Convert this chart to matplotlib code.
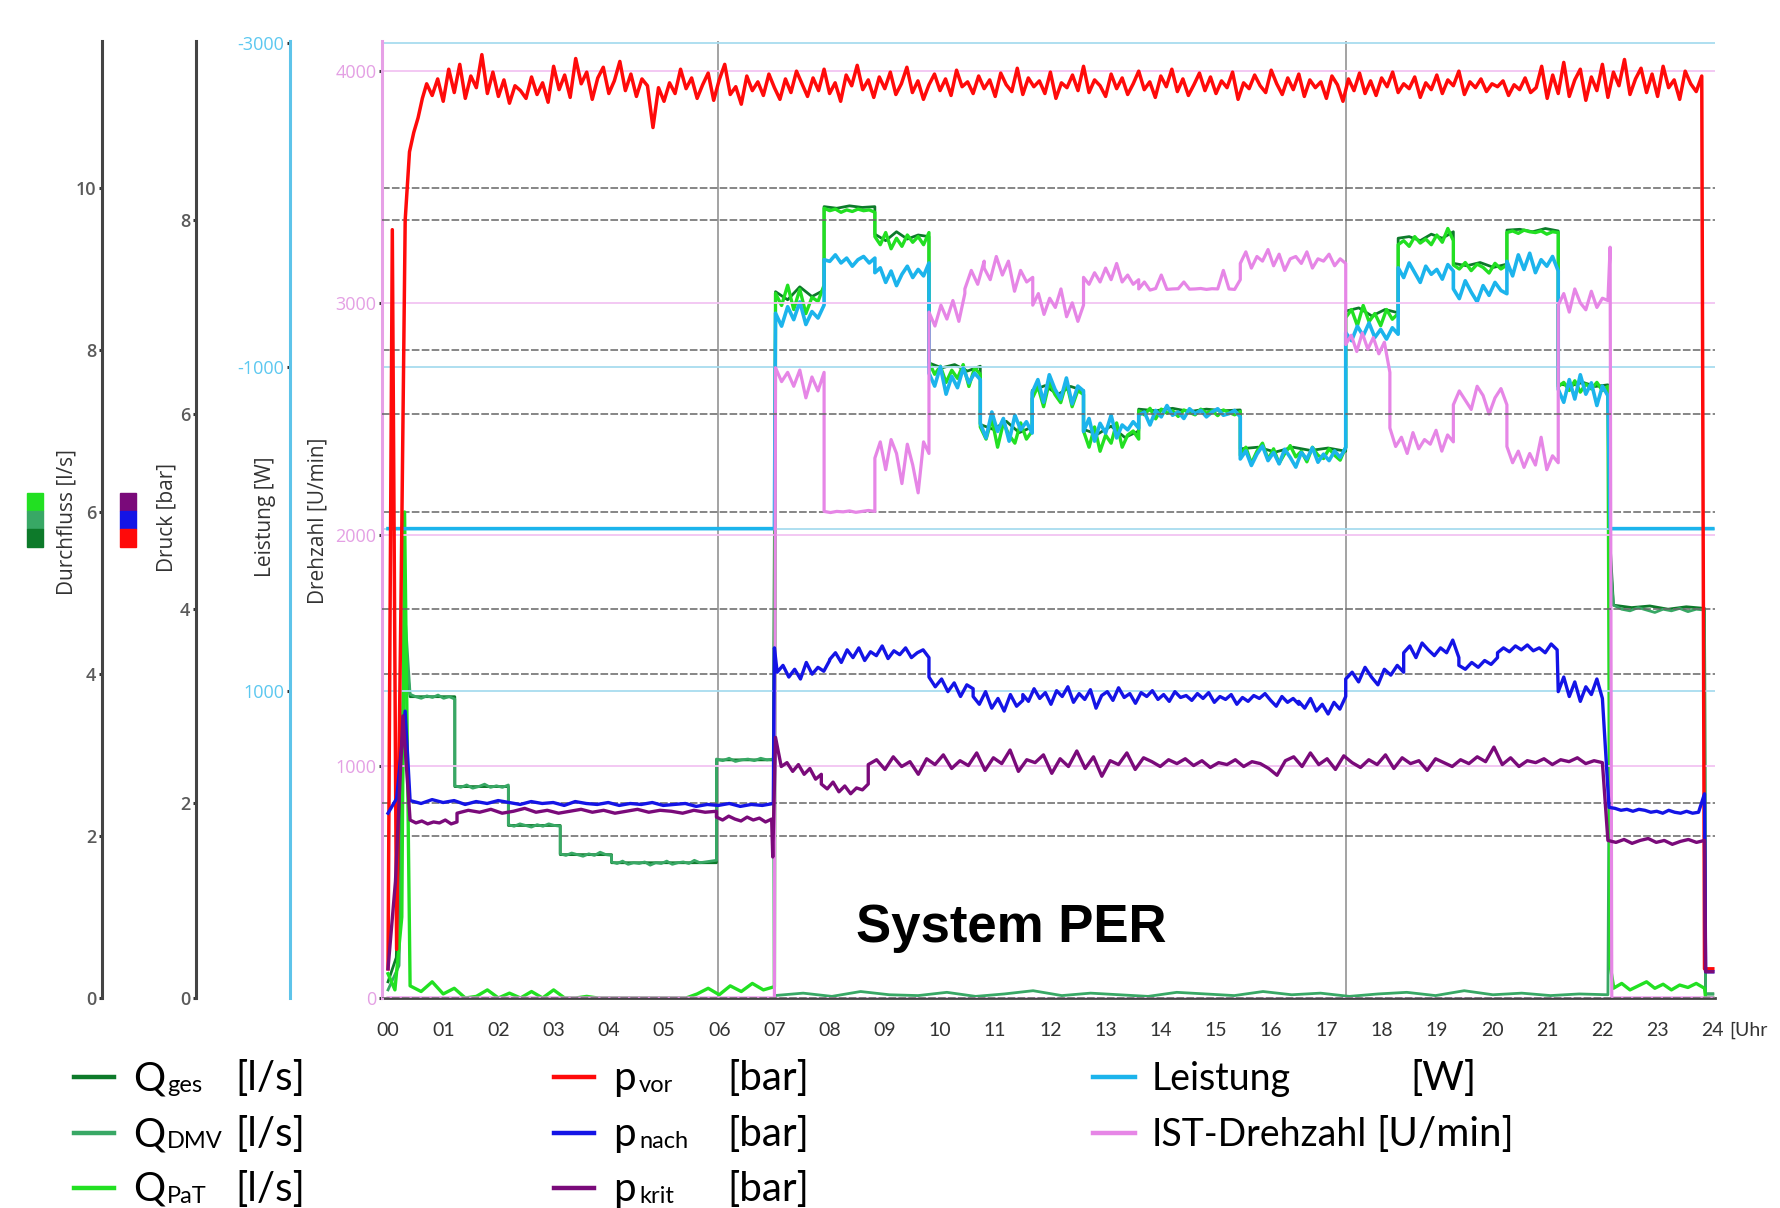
import numpy as np
import matplotlib
matplotlib.use("Agg")
import matplotlib.pyplot as plt
from matplotlib.lines import Line2D
from matplotlib.patches import Rectangle

plt.rcParams["axes.unicode_minus"] = False

W, H = 1780, 1208

# ---- data (hours, values); each segment = (t_start, t_end, values spread evenly) ----
HOURS = list(range(25))
HOUR_LABELS = [f"{h:02d}" for h in HOURS]
MARKER_TIMES = [5.97, 17.35]

FLOW_TICKS = [0, 2, 4, 6, 8, 10]
PRESS_TICKS = [0, 2, 4, 6, 8]
POWER_TICKS = [-3000, -1000, 1000]
RPM_TICKS = [0, 1000, 2000, 3000, 4000]

PVOR_START = [0.3, 7.9, 0.5, 4.0, 8.0, 8.7, 8.9, 9.05, 9.25, 9.4]
PVOR_MAIN = [
    9.28, 9.45, 9.22, 9.55, 9.31, 9.60, 9.25, 9.48, 9.36, 9.70,
    9.30, 9.52, 9.27, 9.44, 9.20, 9.38, 9.33, 9.25, 9.47, 9.29,
    9.41, 9.21, 9.58, 9.34, 9.49, 9.26, 9.66, 9.40, 9.52, 9.24,
    9.46, 9.57, 9.30, 9.43, 9.63, 9.33, 9.50, 9.27, 9.45, 9.38,
    8.95, 9.36, 9.22, 9.41, 9.30, 9.55, 9.35, 9.46, 9.25, 9.39,
    9.51, 9.23, 9.44, 9.60, 9.29, 9.37, 9.19, 9.48, 9.33, 9.42,
    9.28, 9.50, 9.36, 9.24, 9.45, 9.31, 9.53, 9.40, 9.27, 9.46,
    9.33, 9.55, 9.30, 9.41, 9.22, 9.49, 9.38, 9.59, 9.34, 9.44,
    9.26, 9.47, 9.35, 9.52, 9.29, 9.40, 9.57, 9.31, 9.43, 9.24,
    9.39, 9.50, 9.33, 9.45, 9.28, 9.54, 9.37, 9.42, 9.30, 9.48,
    9.35, 9.44, 9.27, 9.51, 9.39, 9.32, 9.56, 9.29, 9.46, 9.37,
    9.43, 9.30, 9.52, 9.25, 9.41, 9.36, 9.49, 9.33, 9.58, 9.31,
    9.44, 9.38, 9.27, 9.50, 9.35, 9.46, 9.29, 9.40, 9.53, 9.34,
    9.42, 9.26, 9.48, 9.37, 9.55, 9.32, 9.45, 9.28, 9.39, 9.51,
    9.33, 9.47, 9.30, 9.43, 9.36, 9.52, 9.24, 9.41, 9.35, 9.49,
    9.38, 9.31, 9.54, 9.40, 9.29, 9.46, 9.34, 9.50, 9.27, 9.44,
    9.36, 9.42, 9.25, 9.48, 9.39, 9.22, 9.45, 9.33, 9.51, 9.30,
    9.43, 9.28, 9.46, 9.37, 9.52, 9.31, 9.40, 9.35, 9.47, 9.26,
    9.41, 9.34, 9.49, 9.30, 9.44, 9.38, 9.53, 9.29, 9.42, 9.36,
    9.45, 9.32, 9.40, 9.37, 9.43, 9.28, 9.39, 9.34, 9.46, 9.31,
    9.36, 9.58, 9.25, 9.49, 9.30, 9.62, 9.27, 9.44, 9.55, 9.23,
    9.47, 9.33, 9.60, 9.26, 9.52, 9.38, 9.65, 9.29, 9.45, 9.56,
    9.31, 9.50, 9.27, 9.58, 9.36, 9.44, 9.24, 9.53, 9.40, 9.32,
    9.48,
]
PVOR = [(0.0, 0.7, PVOR_START), (0.8, 23.8, PVOR_MAIN), (23.85, 24.0, [0.3, 0.3])]

PNACH_NIGHT = [2.03, 2.0, 2.04, 2.01, 2.03, 1.99, 2.02, 2.0, 2.03, 2.01, 1.99, 2.02,
               2.0, 2.01, 1.98, 2.02, 2.0, 1.99, 2.01, 1.98, 2.0, 1.99, 2.01, 1.98,
               1.99, 2.0, 1.97, 1.99, 1.98, 2.0, 1.97, 1.99, 1.98, 2.0]
PNACH_DAY = [3.12, 3.05, 3.18, 3.08, 3.14, 3.02, 3.16, 3.1, 3.2, 3.04,
             3.13, 3.07, 3.17, 2.98, 3.11, 3.15, 3.06, 3.19, 3.09, 3.13,
             3.03, 3.14, 3.1, 3.16, 3.07, 3.12, 3.05, 3.15, 3.09, 3.11,
             3.06, 3.13, 3.08, 3.14, 3.04, 3.1, 3.07, 3.12, 3.02, 3.09,
             3.05, 3.11, 3.08, 3.13, 3.06, 3.0, 3.1, 3.04, 3.08, 3.02]
PNACH = [
    (0.0, 0.31, [1.9, 2.05, 2.95]),
    (0.4, 6.98, PNACH_NIGHT),
    (7.0, 7.0, [3.6]),
    (7.05, 8.0, [3.35, 3.42, 3.3, 3.38, 3.28, 3.45, 3.33, 3.4, 3.36, 3.47]),
    (8.0, 9.8, [3.48, 3.55, 3.45, 3.58, 3.5, 3.6, 3.47, 3.56, 3.52, 3.62,
                3.49, 3.57, 3.53, 3.6, 3.5, 3.55, 3.58, 3.5]),
    (9.8, 10.6, [3.3, 3.2, 3.28, 3.15, 3.24, 3.1, 3.22, 3.18]),
    (10.6, 11.5, [3.1, 3.02, 3.15, 2.98, 3.08, 2.95, 3.12, 3.0, 3.06]),
    (11.5, 16.5, PNACH_DAY),
    (16.5, 17.35, [3.05, 2.98, 3.08, 2.95, 3.02, 2.92, 3.04, 2.97, 3.1]),
    (17.35, 18.4, [3.28, 3.35, 3.25, 3.4, 3.3, 3.22, 3.38, 3.32, 3.42, 3.35]),
    (18.4, 19.4, [3.55, 3.62, 3.5, 3.65, 3.58, 3.52, 3.6, 3.55, 3.68, 3.5]),
    (19.4, 20.1, [3.42, 3.38, 3.45, 3.4, 3.47, 3.43, 3.5]),
    (20.1, 21.18, [3.55, 3.6, 3.56, 3.62, 3.58, 3.63, 3.57, 3.6, 3.55, 3.64, 3.58]),
    (21.2, 22.0, [3.15, 3.3, 3.1, 3.25, 3.05, 3.2, 3.12, 3.28, 3.08]),
    (22.12, 23.85, [1.96, 1.95, 1.93, 1.94, 1.92, 1.94, 1.93, 1.91, 1.92, 1.9,
                    1.93, 1.91, 1.9, 1.92, 1.9, 1.91, 2.1]),
    (23.87, 24.0, [0.27, 0.27]),
]

PKRIT_NIGHT = [1.9, 1.93, 1.91, 1.94, 1.9, 1.92, 1.95, 1.91, 1.93, 1.9, 1.92, 1.94,
               1.91, 1.93, 1.9, 1.92, 1.94, 1.91, 1.93, 1.92, 1.9, 1.93, 1.91, 1.92]
PKRIT_DAY = [
    2.4, 2.45, 2.35, 2.48, 2.38, 2.43, 2.3, 2.46, 2.4, 2.5,
    2.36, 2.44, 2.39, 2.52, 2.34, 2.47, 2.41, 2.55, 2.33, 2.45,
    2.42, 2.5, 2.31, 2.46, 2.38, 2.54, 2.36, 2.48, 2.28, 2.44,
    2.4, 2.52, 2.35, 2.47, 2.43, 2.38, 2.45, 2.41, 2.46, 2.39,
    2.44, 2.37, 2.42, 2.4, 2.45, 2.38, 2.43, 2.41, 2.36, 2.29,
    2.44, 2.48, 2.38, 2.52, 2.4, 2.46, 2.35, 2.49, 2.42, 2.37,
    2.45, 2.4, 2.5, 2.36, 2.47, 2.41, 2.44, 2.34, 2.46, 2.42,
    2.38, 2.45, 2.41, 2.48, 2.43, 2.58, 2.4, 2.47, 2.38, 2.44,
    2.42, 2.46, 2.4, 2.45, 2.43, 2.47, 2.41, 2.44, 2.42,
]
PKRIT = [
    (0.0, 0.27, [0.3, 1.2, 2.9]),
    (0.4, 1.25, [1.83, 1.8, 1.82, 1.79, 1.81, 1.8, 1.83, 1.79, 1.81]),
    (1.25, 5.95, PKRIT_NIGHT),
    (5.95, 6.95, [1.86, 1.83, 1.87, 1.84, 1.82, 1.86, 1.83, 1.85, 1.81, 1.84]),
    (6.97, 6.97, [1.45]),
    (7.02, 7.85, [2.68, 2.38, 2.42, 2.33, 2.4, 2.3, 2.36, 2.25, 2.3]),
    (7.85, 8.7, [2.2, 2.15, 2.22, 2.12, 2.18, 2.1, 2.16, 2.14, 2.2]),
    (8.7, 22.0, PKRIT_DAY),
    (22.1, 23.85, [1.62, 1.6, 1.63, 1.59, 1.62, 1.64, 1.6, 1.62, 1.58, 1.61, 1.63, 1.6, 1.62]),
    (23.87, 24.0, [0.27, 0.27]),
]

QGES = [
    (0.0, 0.3, [0.2, 0.5, 4.4]),
    (0.4, 1.21, [3.72, 3.72]), (1.21, 2.18, [2.61, 2.61]), (2.18, 3.12, [2.13, 2.13]),
    (3.12, 4.05, [1.77, 1.77]), (4.05, 5.95, [1.67, 1.67]), (5.95, 6.98, [2.94, 2.94]),
    (7.02, 7.9, [8.72, 8.62, 8.78, 8.66, 8.74]),
    (7.9, 8.82, [9.77, 9.75, 9.78, 9.76, 9.77]),
    (8.82, 9.8, [9.43, 9.35, 9.46, 9.37, 9.42, 9.4]),
    (9.8, 10.73, [7.84, 7.78, 7.82, 7.74, 7.8]),
    (10.73, 11.67, [7.08, 7.02, 7.12, 6.98, 7.05]),
    (11.67, 12.6, [7.5, 7.56, 7.45, 7.55, 7.5]),
    (12.6, 13.6, [7.02, 6.96, 7.06, 6.92, 7.0]),
    (13.6, 15.44, [7.27, 7.25, 7.28, 7.24, 7.27, 7.25, 7.26]),
    (15.44, 17.35, [6.78, 6.8, 6.74, 6.8, 6.76, 6.79, 6.75]),
    (17.35, 18.3, [8.48, 8.52, 8.42, 8.5, 8.46]),
    (18.3, 19.3, [9.38, 9.4, 9.35, 9.43, 9.38, 9.46]),
    (19.3, 20.27, [9.07, 9.04, 9.08, 9.02, 9.06]),
    (20.27, 21.2, [9.48, 9.49, 9.46, 9.5, 9.47]),
    (21.2, 22.1, [7.58, 7.56, 7.6, 7.55, 7.57]),
    (22.14, 22.14, [5.6]),
    (22.2, 23.85, [4.85, 4.82, 4.84, 4.8, 4.83, 4.81]),
    (23.87, 24.0, [0.05, 0.05]),
]

QDMV_DAY = [0.03, 0.06, 0.02, 0.08, 0.04, 0.03, 0.07, 0.02, 0.05, 0.09, 0.03, 0.06, 0.04, 0.02, 0.07,
            0.05, 0.03, 0.08, 0.04, 0.06, 0.02, 0.05, 0.07, 0.03, 0.09, 0.04, 0.06, 0.03, 0.05, 0.04]
QDMV = [
    (0.0, 0.2, [0.1, 0.4]),
    (0.32, 0.32, [4.6]),
    (0.4, 1.21, [3.75, 3.72, 3.7, 3.73, 3.71, 3.74, 3.7, 3.72, 3.69]),
    (1.21, 2.18, [2.62, 2.6, 2.63, 2.59, 2.61, 2.64, 2.6, 2.62, 2.6, 2.63]),
    (2.18, 3.12, [2.14, 2.12, 2.15, 2.13, 2.11, 2.14, 2.12, 2.15, 2.13, 2.12]),
    (3.12, 4.05, [1.78, 1.76, 1.79, 1.77, 1.75, 1.78, 1.76, 1.8, 1.77, 1.76]),
    (4.05, 5.95, [1.68, 1.66, 1.69, 1.65, 1.67, 1.66, 1.68, 1.64, 1.67, 1.66,
                  1.69, 1.65, 1.67, 1.68, 1.66, 1.7, 1.67, 1.68, 1.69, 1.7]),
    (5.95, 6.98, [2.95, 2.93, 2.96, 2.92, 2.94, 2.95, 2.93, 2.96, 2.94, 2.95]),
    (7.0, 22.1, QDMV_DAY),
    (22.14, 22.14, [5.4]),
    (22.2, 23.85, [4.85, 4.8, 4.78, 4.82, 4.79, 4.76, 4.8, 4.78, 4.81, 4.77, 4.8, 4.79]),
    (23.87, 24.0, [0.05, 0.05]),
]

QPAT_NIGHT = [0.15, 0.08, 0.2, 0.05, 0.12, 0.0, 0.02, 0.1, 0.0, 0.06, 0.0, 0.08, 0.0, 0.1, 0.0, 0.0, 0.02,
              0.0, 0.0, 0.0, 0.0, 0.0, 0.0, 0.0, 0.0, 0.0, 0.05, 0.12, 0.04, 0.15, 0.08, 0.18, 0.1, 0.14]
QPAT = [
    (0.0, 0.25, [0.3, 0.1, 1.0]),
    (0.3, 0.3, [6.0]),
    (0.4, 7.0, QPAT_NIGHT),
    (7.02, 7.9, [8.7, 8.55, 8.8, 8.5, 8.75, 8.45, 8.65, 8.6, 8.8]),
    (7.9, 8.82, [9.75, 9.72, 9.74, 9.7, 9.73, 9.71, 9.74, 9.72, 9.73, 9.7]),
    (8.82, 9.8, [9.4, 9.3, 9.45, 9.25, 9.38, 9.28, 9.42, 9.33, 9.4, 9.3, 9.45]),
    (9.8, 10.73, [7.85, 7.7, 7.8, 7.6, 7.75, 7.65, 7.82, 7.55, 7.78, 7.7]),
    (10.73, 11.67, [7.05, 6.9, 7.15, 6.8, 7.1, 6.95, 6.85, 7.1, 6.9, 7.0]),
    (11.67, 12.6, [7.4, 7.55, 7.3, 7.6, 7.45, 7.35, 7.6, 7.3, 7.5, 7.45]),
    (12.6, 13.6, [7.0, 6.8, 7.05, 6.75, 6.95, 6.85, 7.1, 6.8, 6.95, 7.0, 6.9]),
    (13.6, 15.44, [7.25, 7.2, 7.28, 7.15, 7.27, 7.22, 7.25, 7.18, 7.26, 7.23,
                   7.2, 7.27, 7.22, 7.25, 7.19, 7.26, 7.23, 7.2, 7.24]),
    (15.44, 17.35, [6.7, 6.8, 6.6, 6.75, 6.85, 6.65, 6.78, 6.6, 6.72, 6.82,
                    6.68, 6.75, 6.62, 6.8, 6.7, 6.66, 6.78, 6.7, 6.64, 6.8]),
    (17.35, 18.3, [8.4, 8.5, 8.3, 8.55, 8.35, 8.45, 8.3, 8.5, 8.38, 8.45]),
    (18.3, 19.3, [9.3, 9.35, 9.28, 9.4, 9.32, 9.37, 9.3, 9.42, 9.33, 9.5, 9.35]),
    (19.3, 20.27, [9.05, 9.0, 9.08, 8.98, 9.06, 9.02, 8.95, 9.07, 9.0, 9.05]),
    (20.27, 21.2, [9.45, 9.47, 9.44, 9.48, 9.46, 9.45, 9.47, 9.43, 9.46, 9.45]),
    (21.2, 22.1, [7.55, 7.6, 7.5, 7.62, 7.48, 7.58, 7.52, 7.6, 7.5, 7.55]),
    (22.14, 22.2, [0.4, 0.15]),
    (22.2, 23.85, [0.12, 0.18, 0.1, 0.15, 0.2, 0.12, 0.17, 0.1, 0.16, 0.13, 0.18, 0.12]),
    (23.87, 24.0, [0.0, 0.0]),
]

LEISTUNG = [
    (0.0, 7.0, [0, 0]),
    (7.02, 7.9, [-1330, -1250, -1370, -1290, -1400, -1260, -1340, -1300, -1380]),
    (7.9, 8.82, [-1660, -1650, -1690, -1640, -1670, -1620, -1660, -1680, -1640, -1670]),
    (8.82, 9.8, [-1580, -1610, -1520, -1590, -1500, -1570, -1620, -1550, -1600, -1560, -1640]),
    (9.8, 10.73, [-960, -880, -1000, -830, -940, -870, -990, -900, -960, -920]),
    (10.73, 11.67, [-650, -560, -720, -600, -680, -540, -700, -610, -660, -590]),
    (11.67, 12.6, [-840, -920, -780, -950, -860, -800, -930, -770, -880, -850]),
    (12.6, 13.6, [-600, -680, -540, -650, -590, -700, -560, -640, -610, -660, -620]),
    (13.6, 15.44, [-700, -720, -640, -730, -690, -760, -700, -720, -680, -740,
                   -710, -730, -690, -720, -740, -700, -710, -730, -690]),
    (15.44, 17.35, [-430, -480, -390, -460, -510, -420, -470, -400, -490, -440,
                    -380, -470, -430, -500, -410, -460, -420, -480, -440, -500]),
    (17.35, 18.3, [-1210, -1160, -1250, -1190, -1270, -1180, -1230, -1170, -1240, -1200]),
    (18.3, 19.3, [-1610, -1550, -1640, -1580, -1520, -1620, -1570, -1600, -1540, -1630, -1590]),
    (19.3, 20.27, [-1480, -1420, -1530, -1460, -1400, -1500, -1440, -1520, -1470, -1450]),
    (20.27, 21.2, [-1650, -1560, -1690, -1600, -1700, -1580, -1660, -1620, -1680, -1590]),
    (21.2, 22.1, [-860, -780, -920, -800, -950, -830, -900, -760, -880, -820]),
    (22.14, 24.0, [0, 0]),
]

DREHZAHL = [
    (0.0, 7.0, [0, 0]),
    (7.02, 7.9, [2720, 2660, 2700, 2640, 2710, 2590, 2680, 2620, 2700]),
    (7.9, 8.82, [2100, 2095, 2100, 2098, 2102, 2096, 2100, 2104, 2100]),
    (8.82, 9.8, [2330, 2400, 2280, 2410, 2350, 2220, 2390, 2300, 2180, 2400, 2350]),
    (9.8, 10.45, [2960, 2900, 2990, 2930, 3010, 2920, 3040]),
    (10.45, 10.8, [3060, 3140, 3080, 3180]),
    (10.8, 11.68, [3150, 3100, 3200, 3120, 3180, 3050, 3140, 3090, 3110]),
    (11.68, 12.6, [2990, 3040, 2950, 3020, 2980, 3060, 2940, 3000, 2920, 2990]),
    (12.6, 13.6, [3110, 3080, 3130, 3090, 3150, 3100, 3170, 3090, 3120, 3080, 3100]),
    (13.6, 15.44, [3060, 3090, 3055, 3062, 3120, 3058, 3060, 3061, 3090, 3059,
                   3060, 3062, 3058, 3061, 3060, 3140, 3060, 3058, 3100]),
    (15.44, 17.35, [3170, 3220, 3150, 3200, 3180, 3230, 3160, 3210, 3140, 3190,
                    3200, 3170, 3220, 3150, 3190, 3180, 3210, 3160, 3190, 3170]),
    (17.35, 18.15, [2820, 2860, 2790, 2870, 2800, 2850, 2780, 2830, 2700]),
    (18.15, 19.3, [2460, 2380, 2420, 2350, 2440, 2370, 2410, 2390, 2450, 2360, 2430, 2400]),
    (19.3, 20.27, [2560, 2620, 2580, 2540, 2640, 2600, 2520, 2590, 2630, 2560]),
    (20.27, 21.2, [2380, 2310, 2360, 2290, 2350, 2300, 2420, 2280, 2340, 2310]),
    (21.2, 22.1, [2990, 3040, 2960, 3060, 3000, 2970, 3050, 2980, 3020, 3010]),
    (22.14, 22.14, [3240]),
    (22.17, 24.0, [0, 0]),
]

# colours
C_QGES, C_QDMV, C_QPAT = "#0d7a2a", "#38a865", "#22e022"
C_PVOR, C_PNACH, C_PKRIT = "#ff0a0a", "#1414e6", "#7a0a7a"
C_LEIST, C_DREH = "#1cb4ec", "#e686e6"


def build(segments):
    xs, ys = [], []
    for t0, t1, vals in segments:
        if len(vals) == 1:
            xs.append(t0)
        else:
            xs.extend(np.linspace(t0, t1, len(vals)))
        ys.extend(vals)
    return xs, ys


def fx(px):
    return px / W


def fy(py):
    return 1 - py / H


L, R, T, B = 382, 1715, 41, 998
rect = [fx(L), fy(B), (R - L) / W, (B - T) / H]

fig = plt.figure(figsize=(W / 100, H / 100), dpi=100)
ax = fig.add_axes(rect)
ax_q = fig.add_axes(rect, sharex=ax)
ax_w = fig.add_axes(rect, sharex=ax)
ax_n = fig.add_axes(rect, sharex=ax)
ax_p = fig.add_axes(rect, sharex=ax)

# base axis: time
ax.set_xlim(-0.109, 24.04)
ax.set_yticks([])
for s in ("left", "top", "right"):
    ax.spines[s].set_visible(False)
ax.spines["bottom"].set_color("#444444")
ax.spines["bottom"].set_linewidth(2)
ax.set_xticks(HOURS)
ax.set_xticklabels(HOUR_LABELS, fontsize=14, color="#333333", family="Lato")
ax.tick_params(axis="x", length=0, pad=17)
for t in MARKER_TIMES:
    ax.axvline(t, color="#8a8a8a", lw=1.1, zorder=1)

overlay = [
    (ax_q, (0, 11.815), FLOW_TICKS, 102, "#444444", "#5a5a5a", "semibold"),
    (ax_p, (0, 9.84), PRESS_TICKS, 196, "#444444", "#5a5a5a", "semibold"),
    (ax_w, (2897, -3010), POWER_TICKS, 290, "#5ec4ea", "#5cc8f0", "normal"),
    (ax_n, (0, 4130), RPM_TICKS, 382, "#e6a0e6", "#e4a0e4", "normal"),
]
for a, lim, ticks, sx, spine_c, lab_c, wt in overlay:
    a.patch.set_visible(False)
    a.set_ylim(*lim)
    for s in ("top", "right", "bottom"):
        a.spines[s].set_visible(False)
    a.spines["left"].set_position(("axes", (sx - L) / (R - L)))
    a.spines["left"].set_color(spine_c)
    a.spines["left"].set_linewidth(2.2)
    a.set_yticks(ticks)
    a.tick_params(axis="x", bottom=False, labelbottom=False)
    a.tick_params(axis="y", length=2.5, width=2.2, color="#333333", pad=1.5,
                  labelsize=13, labelcolor=lab_c)
    for lab in a.get_yticklabels():
        lab.set_family("Open Sans")
        lab.set_fontweight(wt)

# grid lines
ax_q.grid(axis="y", color="#666666", lw=1.1, ls=(0, (5, 1.5)))
ax_p.grid(axis="y", color="#666666", lw=1.1, ls=(0, (5, 1.5)))
ax_w.grid(axis="y", color="#a8dcef", lw=1.3)
ax_w.axhline(0, color="#a8dcef", lw=1.3)
ax_n.grid(axis="y", color="#f2c4f2", lw=1.3)

# series
ax_q.plot(*build(QGES), color=C_QGES, lw=2.0)
ax_q.plot(*build(QDMV), color=C_QDMV, lw=2.0)
ax_q.plot(*build(QPAT), color=C_QPAT, lw=2.4)
ax_w.plot(*build(LEISTUNG), color=C_LEIST, lw=2.6)
ax_n.plot(*build(DREHZAHL), color=C_DREH, lw=2.3)
ax_p.plot(*build(PVOR), color=C_PVOR, lw=2.5)
ax_p.plot(*build(PNACH), color=C_PNACH, lw=2.4)
ax_p.plot(*build(PKRIT), color=C_PKRIT, lw=2.4)

# axis titles + colour keys
for text, x, y in [("Durchfluss [l/s]", 67, 522), ("Druck [bar]", 167, 517),
                   ("Leistung [W]", 265, 517), ("Drehzahl [U/min]", 318, 521)]:
    fig.text(fx(x), fy(y), text, rotation=90, ha="center", va="center",
             fontsize=15, color="#333333", family="Open Sans")

for x0, cols in [(27, [C_QPAT, C_QDMV, C_QGES]), (120, [C_PKRIT, C_PNACH, C_PVOR])]:
    for i, c in enumerate(cols):
        y0 = 493 + i * 18
        fig.add_artist(Rectangle((fx(x0), fy(y0 + 18)), 16 / W, 18 / H, color=c,
                                 transform=fig.transFigure))

# annotation
fig.text(fx(1011), fy(928), "System PER", ha="center", va="center",
         fontsize=38, fontweight="bold", family="Liberation Sans", color="black")
fig.text(fx(1729), fy(1030), "[Uhr", ha="left", va="center", fontsize=14,
         color="#333333", family="Lato")

# legend
rows = [1090, 1146, 1201]
legend_cols = [
    (74, 114, 133, 167, 235, [("Q", "ges", "[l/s]", C_QGES), ("Q", "DMV", "[l/s]", C_QDMV),
                              ("Q", "PaT", "[l/s]", C_QPAT)]),
    (554, 594, 613, 639, 727, [("p", "vor", "[bar]", C_PVOR), ("p", "nach", "[bar]", C_PNACH),
                               ("p", "krit", "[bar]", C_PKRIT)]),
]
for lx0, lx1, tx, sx, ux, items in legend_cols:
    for yb, (main, sub, unit, col) in zip(rows, items):
        fig.add_artist(Line2D([fx(lx0), fx(lx1)], [fy(yb - 13)] * 2, color=col, lw=3.2,
                              transform=fig.transFigure))
        fig.text(fx(tx), fy(yb), main, fontsize=29, family="Lato", va="baseline")
        fig.text(fx(sx), fy(yb + 2), sub, fontsize=17, family="Lato", va="baseline")
        fig.text(fx(ux), fy(yb), unit, fontsize=29, family="Lato", va="baseline")

for yb, name, unit, ux, col in [(1090, "Leistung", "[W]", 1410, C_LEIST),
                                (1146, "IST-Drehzahl", "[U/min]", 1376, C_DREH)]:
    fig.add_artist(Line2D([fx(1093), fx(1135)], [fy(yb - 13)] * 2, color=col, lw=3.2,
                          transform=fig.transFigure))
    fig.text(fx(1152), fy(yb), name, fontsize=27, family="Lato", va="baseline")
    fig.text(fx(ux), fy(yb), unit, fontsize=29, family="Lato", va="baseline")

fig.savefig("out.png", dpi=100, facecolor="white")
